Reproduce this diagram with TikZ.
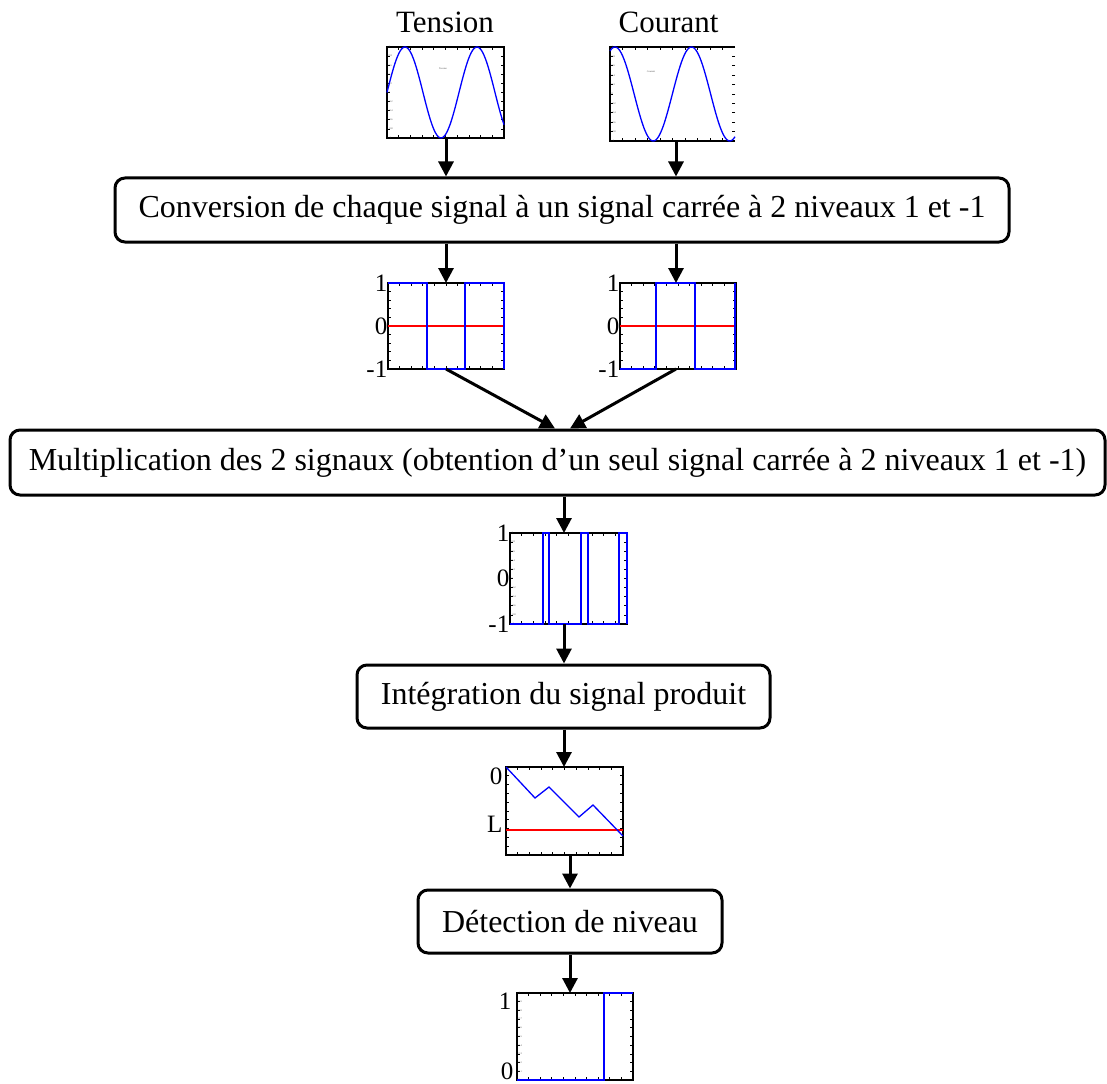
\documentclass[tikz,border=0pt]{standalone}
\usepackage{fontspec}
\setmainfont{Liberation Serif}
\usetikzlibrary{calc,arrows.meta}
\tikzset{
  stepbox/.style={draw, line width=3pt, rounded corners=10pt, inner sep=0pt,
    font=\fontsize{32}{36}\selectfont},
  flow/.style={-{Triangle[length=15pt,width=15pt]}, line width=3pt},
  plotbox/.style={inner sep=0pt, outer sep=0pt},
  frame/.style={draw=black, line width=1.5pt},
  tickmark/.style={draw=black, line width=0.7pt},
  wave/.style={draw=blue, line width=1.3pt},
  level/.style={draw=red, line width=1.2pt},
  axlabel/.style={font=\fontsize{25}{28}\selectfont, anchor=east, inner sep=0.5pt},
  title/.style={font=\fontsize{31}{35}\selectfont, anchor=base},
  tinytext/.style={font=\fontsize{2.5}{3}\selectfont, inner sep=0pt, text=black!70}
}
% ticks inside a plot frame
\newcommand{\frameticks}[1]{%
  \foreach \t in {0.1,0.2,...,0.95} {
    \draw[tickmark] ($(#1.south west)!\t!(#1.south east)$) -- ++(0,-3);
    \draw[tickmark] ($(#1.north west)!\t!(#1.north east)$) -- ++(0,3);
    \draw[tickmark] ($(#1.north west)!\t!(#1.south west)$) -- ++(3,0);
    \draw[tickmark] ($(#1.north east)!\t!(#1.south east)$) -- ++(-3,0);
  }}
% small numbers along the left axis
\newcommand{\axisnums}[3]{%
  \foreach \v [count=\i from 0] in {#2} {
    \node[tinytext, anchor=west] (#1n\i) at ($(#1.north west)!\i/#3!(#1.south west)+(1.5,0)$) {\v};
  }}

\begin{document}
\begin{tikzpicture}[x=1pt, y=-1pt]
  \useasboundingbox (0,0) rectangle (1107,1083);
  % columns of the arrows
  \coordinate (colA) at (446,0);
  \coordinate (colB) at (676,0);
  \coordinate (colC) at (564,0);
  \coordinate (colD) at (570,0);

  % input signals
  \node[title] (tU) at (445,33) {Tension};
  \node[title] (tI) at (668.5,33) {Courant};
  \node[plotbox, minimum width=117pt, minimum height=91pt] (sinU) at (445.5,92.5) {};
  \node[plotbox, minimum width=125pt, minimum height=94pt] (sinI) at (672.5,94) {};
  \draw[frame] (sinU.south west) rectangle (sinU.north east);
  \draw[frame] (sinI.north east) -- (sinI.north west) -- (sinI.south west) -- (sinI.south east);
  \frameticks{sinU}
  \frameticks{sinI}
  \axisnums{sinU}{1,0.8,0.6,0.4,0.2,0,-0.2,-0.4,-0.6,-0.8,-1}{10}
  \axisnums{sinI}{1,0.8,0.6,0.4,0.2,0,-0.2,-0.4,-0.6,-0.8,-1}{10}
  \node[tinytext] (legU) at (443,69) {Tension};
  \node[tinytext] (legI) at (651,72) {Courant};
  \draw[wave] plot[domain=387:504, samples=90] (\x, {92.5-45.5*sin(5*(\x-387))});
  \draw[wave] plot[domain=610:735, samples=90] (\x, {94-47*cos(4.706*(\x-615))});

  % conversion
  \node[stepbox, minimum width=894pt, minimum height=64pt] (conv) at (562,210)
    {Conversion de chaque signal à un signal carrée à 2 niveaux 1 et -1};
  \draw[flow] (sinU.south -| colA) -- (conv.north -| colA);
  \draw[flow] (sinI.south -| colB) -- (conv.north -| colB);

  % square signals
  \node[plotbox, minimum width=116pt, minimum height=86pt] (sqU) at (446,326) {};
  \node[plotbox, minimum width=116pt, minimum height=86pt] (sqI) at (678,326) {};
  \draw[frame] (sqU.south west) rectangle (sqU.north east);
  \draw[frame] (sqI.south west) rectangle (sqI.north east);
  \frameticks{sqU}
  \frameticks{sqI}
  \draw[level] (sqU.west) -- (sqU.east);
  \draw[level] (sqI.west) -- (sqI.east);
  \draw[wave] (388,283) -- (427,283) -- (427,369) -- (465,369) -- (465,283) -- (504,283) -- (504,369);
  \draw[wave] (620,369) -- (656,369) -- (656,283) -- (695,283) -- (695,369) -- (735,369) -- (735,283);
  \draw[wave, line width=2.5pt] (735,283) -- (735,369);
  \node[axlabel] (sqU1) at (sqU.north west) {1};
  \node[axlabel] (sqU0) at (sqU.west) {0};
  \node[axlabel] (sqUm) at (sqU.south west) {-1};
  \node[axlabel] (sqI1) at (sqI.north west) {1};
  \node[axlabel] (sqI0) at (sqI.west) {0};
  \node[axlabel] (sqIm) at (sqI.south west) {-1};
  \draw[flow] (conv.south -| colA) -- (sqU.north -| colA);
  \draw[flow] (conv.south -| colB) -- (sqI.north -| colB);

  % multiplication
  \node[stepbox, minimum width=1095pt, minimum height=65pt] (mult) at (557.5,462.5)
    {Multiplication des 2 signaux (obtention d’un seul signal carrée à 2 niveaux 1 et -1)};
  \coordinate (joinL) at ($(mult.north)+(-2.5,0)$);
  \coordinate (joinR) at ($(mult.north)+(12.5,0)$);
  \draw[flow] (sqU.south -| colA) -- (joinL);
  \draw[flow] (sqI.south -| colB) -- (joinR);

  % product signal
  \node[plotbox, minimum width=117pt, minimum height=91pt] (prod) at (568.5,578.5) {};
  \draw[frame] (prod.south west) rectangle (prod.north east);
  \frameticks{prod}
  \axisnums{prod}{1,0.8,0.6,0.4,0.2,0,-0.2,-0.4,-0.6,-0.8,-1}{10}
  \draw[wave] (510,624) -- (543,624) -- (543,533) -- (549,533) -- (549,624) -- (581,624)
    -- (581,533) -- (588,533) -- (588,624) -- (619,624) -- (619,533) -- (627,533) -- (627,624);
  \node[axlabel] (prod1) at (prod.north west) {1};
  \node[axlabel] (prod0) at (prod.west) {0};
  \node[axlabel] (prodm) at (prod.south west) {-1};
  \draw[flow] (mult.south -| colC) -- (prod.north -| colC);

  % integration
  \node[stepbox, minimum width=413pt, minimum height=63pt] (integ) at (563.5,696.5)
    {Intégration du signal produit};
  \draw[flow] (prod.south -| colC) -- (integ.north -| colC);
  \node[plotbox, minimum width=117pt, minimum height=88pt] (intg) at (564.5,811) {};
  \draw[frame] (intg.south west) rectangle (intg.north east);
  \frameticks{intg}
  \draw[level] (506,830) -- (623,830);
  \draw[wave] (506,767) -- (535,798) -- (549,787) -- (579,817) -- (593,805) -- (623,836);
  \node[axlabel] (intg0) at (503,776) {0};
  \node[axlabel] (intgL) at (503,824) {L};
  \draw[flow] (integ.south -| colC) -- (intg.north -| colC);

  % level detection
  \node[stepbox, minimum width=304pt, minimum height=63pt] (detect) at (570,921.5)
    {Détection de niveau};
  \draw[flow] (intg.south -| colD) -- (detect.north -| colD);
  \node[plotbox, minimum width=116pt, minimum height=87pt] (detn) at (575,1036.5) {};
  \draw[frame] (detn.south west) rectangle (detn.north east);
  \frameticks{detn}
  \axisnums{detn}{1,0.9,0.8,0.7,0.6,0.5,0.4,0.3,0.2,0.1,0}{10}
  \draw[wave] (517,1080) -- (604,1080) -- (604,993) -- (633,993);
  \node[axlabel] (detn1) at (512,1001) {1};
  \node[axlabel] (detn0) at (514,1071) {0};
  \draw[flow] (detect.south -| colD) -- (detn.north -| colD);
\end{tikzpicture}
\end{document}
